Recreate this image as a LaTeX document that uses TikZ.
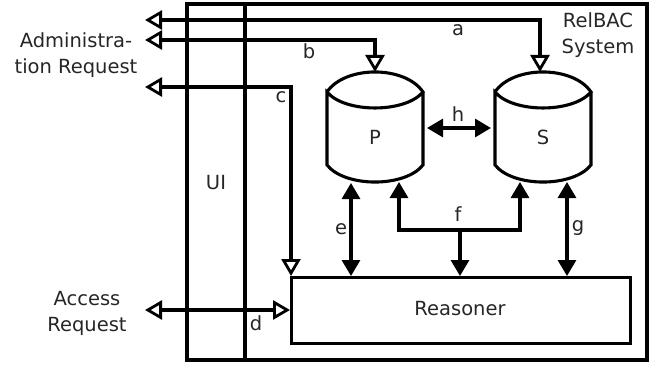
\documentclass[tikz,border=0pt]{standalone}
\usepackage{fontspec}
\setmainfont{DejaVu Sans}
\usetikzlibrary{arrows.meta}
\begin{document}
\begin{tikzpicture}[x=1pt,y=-1pt,
  line width=3.1pt, line join=miter,
  lbl/.style={font=\fontsize{19.5}{26}\selectfont, text=black!85, inner sep=0pt, align=center},
  oarr/.style={{Triangle[open,length=17pt,width=19pt,line width=2.8pt]}-{Triangle[open,length=17pt,width=19pt,line width=2.8pt]}},
  sarr/.style={{Triangle[length=16pt,width=18pt]}-{Triangle[length=16pt,width=18pt]}},
  sone/.style={-{Triangle[length=16pt,width=18pt]}},
  cyl/.style={line width=3.1pt}]
\useasboundingbox (0,0) rectangle (665,369);
% outer system box and UI column
\draw (187,4) rectangle (647,360);
\draw (245,4) -- (245,360);
% Reasoner
\node[draw, minimum width=339pt, minimum height=66pt, inner sep=0pt, anchor=north west, lbl] (reasoner) at (290,276) {};
\node[lbl] (reasonerlbl) at (460,309) {Reasoner};
% cylinders
\foreach \cx/\nm in {375/P,543/S}{
  \draw[cyl] (\cx-48,92) .. controls (\cx-30,65.3) and (\cx+30,65.3) .. (\cx+48,92)
     .. controls (\cx+30,113.3) and (\cx-30,113.3) .. (\cx-48,92) -- (\cx-48,165)
     .. controls (\cx-30,187.7) and (\cx+30,187.7) .. (\cx+48,165) -- (\cx+48,92);
}
\node[lbl] (P) at (375,137) {P};
\node[lbl] (S) at (543,137) {S};
\coordinate (Ptop) at (375,72);
\coordinate (Stop) at (540,72);
% left end points
\coordinate (aL) at (145,20);
\coordinate (bL) at (145,40);
\coordinate (cL) at (145,87);
\coordinate (dL) at (145,310);
% a, b, c
\draw[oarr] (aL) -- (540,20) -- (Stop);
\draw[oarr] (bL) -- (375,40) -- (Ptop);
\draw[oarr] (cL) -- (291,87) -- (291,276);
% d
\draw[oarr] (dL) -- (reasoner.west |- dL);
% h
\draw[sarr] (427,128) -- (491,128);
% e
\draw[sarr] (351,183) -- (351,276);
% g
\draw[sarr] (567,182) -- (567,276);
% f
\draw[sarr] (399,182) -- (399,230) -- (520,230) -- (520,182);
\draw[sone] (460,230) -- (460,276);
% labels
\node[lbl] (la) at (458,30) {a};
\node[lbl] (lb) at (309,51) {b};
\node[lbl] (lc) at (281,97) {c};
\node[lbl] (ld) at (256,323) {d};
\node[lbl] (le) at (341,229) {e};
\node[lbl] (lf) at (458,214) {f};
\node[lbl] (lg) at (578,228) {g};
\node[lbl] (lh) at (458,114) {h};
\node[lbl] (ui) at (216,183) {UI};
\node[lbl] (sys) at (598,35) {RelBAC\\System};
\node[lbl] (adm) at (76,55) {Administra-\\tion Request};
\node[lbl] (acc) at (87,313) {Access\\Request};
\end{tikzpicture}
\end{document}
